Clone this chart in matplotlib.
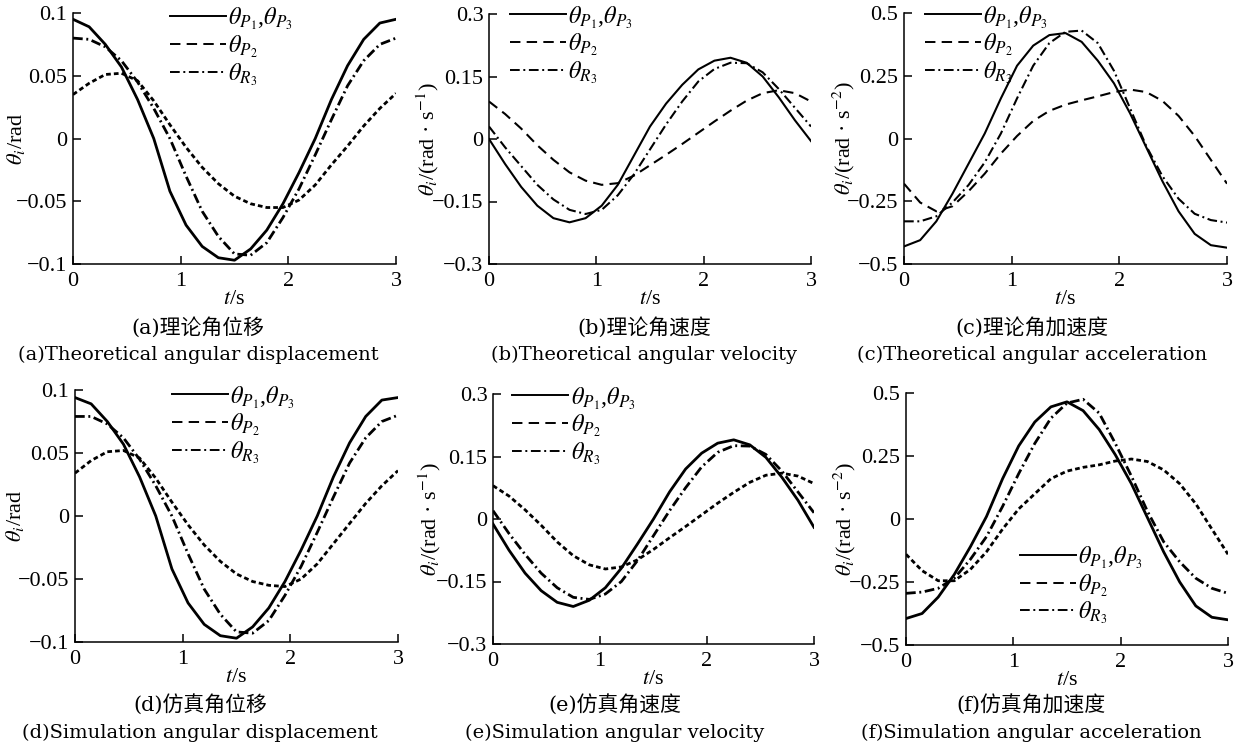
import matplotlib
matplotlib.use('Agg')
import matplotlib.pyplot as plt
from matplotlib.lines import Line2D
from matplotlib.ticker import FuncFormatter

plt.rcParams['font.family'] = ['Liberation Serif', 'Noto Sans CJK SC']
plt.rcParams['mathtext.fontset'] = 'stix'
plt.rcParams['lines.scale_dashes'] = False
plt.rcParams['axes.unicode_minus'] = True

# time axis (s)
t = [0.0, 0.15, 0.3, 0.45, 0.6, 0.75, 0.9, 1.05, 1.2, 1.35, 1.5,
     1.65, 1.8, 1.95, 2.1, 2.25, 2.4, 2.55, 2.7, 2.85, 3.0]

# (a) theoretical angular displacement
a_p13 = [0.095, 0.089, 0.075, 0.057, 0.031, 0.000, -0.042, -0.069, -0.086, -0.095, -0.097,
         -0.088, -0.073, -0.052, -0.027, 0.000, 0.031, 0.058, 0.079, 0.092, 0.095]
a_p2 = [0.035, 0.044, 0.051, 0.052, 0.046, 0.030, 0.011, -0.007, -0.023, -0.036, -0.046,
        -0.052, -0.055, -0.055, -0.049, -0.037, -0.021, -0.006, 0.010, 0.024, 0.036]
a_r3 = [0.080, 0.079, 0.073, 0.062, 0.045, 0.024, 0.000, -0.030, -0.058, -0.078, -0.092,
        -0.093, -0.083, -0.063, -0.040, -0.013, 0.015, 0.042, 0.062, 0.075, 0.080]

# (b) theoretical angular velocity
b_p13 = [0.000, -0.060, -0.115, -0.160, -0.190, -0.200, -0.190, -0.160, -0.110, -0.040, 0.030,
         0.085, 0.130, 0.167, 0.188, 0.195, 0.183, 0.150, 0.100, 0.045, -0.005]
b_p2 = [0.090, 0.060, 0.025, -0.015, -0.050, -0.080, -0.100, -0.110, -0.106, -0.088, -0.063,
        -0.038, -0.012, 0.015, 0.042, 0.068, 0.092, 0.110, 0.117, 0.110, 0.090]
b_r3 = [0.030, -0.020, -0.065, -0.110, -0.145, -0.170, -0.180, -0.170, -0.135, -0.085, -0.025,
        0.035, 0.090, 0.138, 0.168, 0.183, 0.182, 0.160, 0.120, 0.075, 0.030]

# (c) theoretical angular acceleration
c_p13 = [-0.430, -0.405, -0.330, -0.220, -0.100, 0.020, 0.160, 0.290, 0.370, 0.412, 0.420,
         0.385, 0.310, 0.220, 0.100, -0.035, -0.170, -0.290, -0.380, -0.425, -0.435]
c_p2 = [-0.180, -0.255, -0.290, -0.270, -0.210, -0.140, -0.060, 0.010, 0.070, 0.110, 0.135,
        0.152, 0.168, 0.185, 0.195, 0.185, 0.150, 0.090, 0.010, -0.085, -0.180]
c_r3 = [-0.330, -0.330, -0.310, -0.255, -0.185, -0.095, 0.020, 0.160, 0.290, 0.380, 0.425,
        0.430, 0.380, 0.270, 0.120, -0.030, -0.150, -0.240, -0.300, -0.325, -0.335]

# (d) simulated angular displacement
d_p13 = [0.094, 0.089, 0.075, 0.057, 0.031, 0.000, -0.042, -0.069, -0.086, -0.095, -0.097,
         -0.088, -0.073, -0.052, -0.027, 0.000, 0.031, 0.058, 0.079, 0.092, 0.094]
d_p2 = [0.034, 0.044, 0.051, 0.052, 0.046, 0.030, 0.011, -0.007, -0.023, -0.036, -0.046,
        -0.052, -0.055, -0.056, -0.050, -0.038, -0.022, -0.006, 0.010, 0.024, 0.036]
d_r3 = [0.079, 0.079, 0.073, 0.062, 0.045, 0.024, 0.000, -0.030, -0.058, -0.078, -0.092,
        -0.093, -0.083, -0.063, -0.040, -0.013, 0.015, 0.042, 0.062, 0.075, 0.080]

# (e) simulated angular velocity
e_p13 = [-0.012, -0.075, -0.130, -0.172, -0.200, -0.210, -0.195, -0.165, -0.118, -0.060, 0.000,
         0.065, 0.120, 0.158, 0.182, 0.190, 0.178, 0.148, 0.100, 0.045, -0.020]
e_p2 = [0.080, 0.055, 0.022, -0.015, -0.055, -0.088, -0.110, -0.120, -0.115, -0.098, -0.073,
        -0.045, -0.018, 0.010, 0.038, 0.064, 0.088, 0.105, 0.110, 0.103, 0.085]
e_r3 = [0.020, -0.035, -0.085, -0.130, -0.165, -0.188, -0.193, -0.180, -0.150, -0.100, -0.040,
        0.020, 0.075, 0.125, 0.160, 0.176, 0.175, 0.155, 0.115, 0.065, 0.015]

# (f) simulated angular acceleration
f_p13 = [-0.395, -0.375, -0.310, -0.220, -0.110, 0.010, 0.160, 0.290, 0.385, 0.445, 0.465,
         0.430, 0.355, 0.255, 0.140, 0.005, -0.130, -0.250, -0.345, -0.390, -0.400]
f_p2 = [-0.140, -0.205, -0.245, -0.245, -0.200, -0.130, -0.040, 0.040, 0.100, 0.160, 0.190,
        0.205, 0.215, 0.230, 0.238, 0.228, 0.195, 0.140, 0.060, -0.040, -0.140]
f_r3 = [-0.295, -0.290, -0.275, -0.235, -0.160, -0.070, 0.050, 0.180, 0.300, 0.400, 0.460,
        0.475, 0.420, 0.300, 0.170, 0.030, -0.090, -0.170, -0.235, -0.275, -0.295]

leg_labels = [r'$\theta_{P_1}$,$\theta_{P_3}$', r'$\theta_{P_2}$', r'$\theta_{R_3}$']
ylab_disp = r'$\theta_i$/rad'
ylab_vel = '$\\theta_i$/(rad \u00b7 s$^{-1}$)'
ylab_acc = '$\\theta_i$/(rad \u00b7 s$^{-2}$)'

captions_cn = ['(a)理论角位移', '(b)理论角速度', '(c)理论角加速度',
               '(d)仿真角位移', '(e)仿真角速度', '(f)仿真角加速度']
captions_en = ['(a)Theoretical angular displacement', '(b)Theoretical angular velocity',
               '(c)Theoretical angular acceleration', '(d)Simulation angular displacement',
               '(e)Simulation angular velocity', '(f)Simulation angular acceleration']

W, H = 1240, 749
fig = plt.figure(figsize=(W / 100, H / 100), dpi=100)

SHORT = (0, (3.4, 2.2))
LONG = (0, (7.5, 4.5))
DOT = (0, (7, 2.6, 1.4, 2.6))


def fmt(v, pos):
    return ('%g' % round(v, 4)).replace('-', '\u2212')


def panel(box, ys, ylim, yticks, ylabel, p2_style, lw, leg_xy, ylab_x):
    l, tp, r, b = box
    ax = fig.add_axes([l / W, 1 - b / H, (r - l) / W, (b - tp) / H])
    ax.plot(t, ys[0], color='black', ls='-', lw=lw)
    ax.plot(t, ys[1], color='black', ls=p2_style, lw=lw)
    ax.plot(t, ys[2], color='black', ls=DOT, lw=lw)
    ax.set_xlim(0, 3)
    ax.set_ylim(*ylim)
    ax.set_xticks([0, 1, 2, 3])
    ax.set_yticks(yticks)
    ax.yaxis.set_major_formatter(FuncFormatter(fmt))
    ax.xaxis.set_major_formatter(FuncFormatter(fmt))
    for s in ('top', 'right'):
        ax.spines[s].set_visible(False)
    for s in ('left', 'bottom'):
        ax.spines[s].set_linewidth(1.1)
    ax.tick_params(direction='in', length=6, width=1.1, labelsize=16)
    ax.tick_params(axis='x', pad=6)
    ax.tick_params(axis='y', pad=4)
    ax.set_xlabel(r'$t$/s', fontsize=16, labelpad=-1)
    ax.set_ylabel(ylabel, fontsize=16)
    ax.yaxis.set_label_coords(ylab_x, 0.5)
    handles = [Line2D([], [], color='black', ls='-', lw=1.4),
               Line2D([], [], color='black', ls=LONG, lw=1.4),
               Line2D([], [], color='black', ls=DOT, lw=1.4)]
    ax.legend(handles, leg_labels, loc='upper left', bbox_to_anchor=leg_xy,
              frameon=False, fontsize=17.5, handlelength=2.3, handletextpad=0.1,
              labelspacing=0.05, borderpad=0, borderaxespad=0)
    return ax


panel((73, 13, 396, 264), (a_p13, a_p2, a_r3), (-0.1, 0.1), [-0.1, -0.05, 0, 0.05, 0.1],
      ylab_disp, SHORT, 2.0, (0.30, 1.03), -0.142)
panel((489, 14, 811, 264), (b_p13, b_p2, b_r3), (-0.3, 0.3), [-0.3, -0.15, 0, 0.15, 0.3],
      ylab_vel, LONG, 1.5, (0.065, 1.04), -0.149)
panel((904, 13, 1227, 264), (c_p13, c_p2, c_r3), (-0.5, 0.5), [-0.5, -0.25, 0, 0.25, 0.5],
      ylab_acc, LONG, 1.5, (0.065, 1.036), -0.147)
panel((75, 390, 398, 642), (d_p13, d_p2, d_r3), (-0.1, 0.1), [-0.1, -0.05, 0, 0.05, 0.1],
      ylab_disp, SHORT, 2.0, (0.30, 1.024), -0.152)
panel((493, 394, 814, 644), (e_p13, e_p2, e_r3), (-0.3, 0.3), [-0.3, -0.15, 0, 0.15, 0.3],
      ylab_vel, SHORT, 2.0, (0.06, 1.036), -0.156)
panel((906, 393, 1228, 645), (f_p13, f_p2, f_r3), (-0.5, 0.5), [-0.5, -0.25, 0, 0.25, 0.5],
      ylab_acc, SHORT, 2.0, (0.354, 0.40), -0.15)

cap_fam = ['DejaVu Serif', 'Noto Sans CJK SC']
cap_x = [198, 644, 1032, 200, 615, 1031]
for i in range(6):
    yc = 327 if i < 3 else 705
    ye = 355 if i < 3 else 733
    fig.text(cap_x[i] / W, 1 - yc / H, captions_cn[i], ha='center', va='center',
             fontsize=15, family=cap_fam)
    fig.text(cap_x[i] / W, 1 - ye / H, captions_en[i], ha='center', va='center',
             fontsize=14, family=cap_fam)

fig.savefig('out.png', dpi=100)
